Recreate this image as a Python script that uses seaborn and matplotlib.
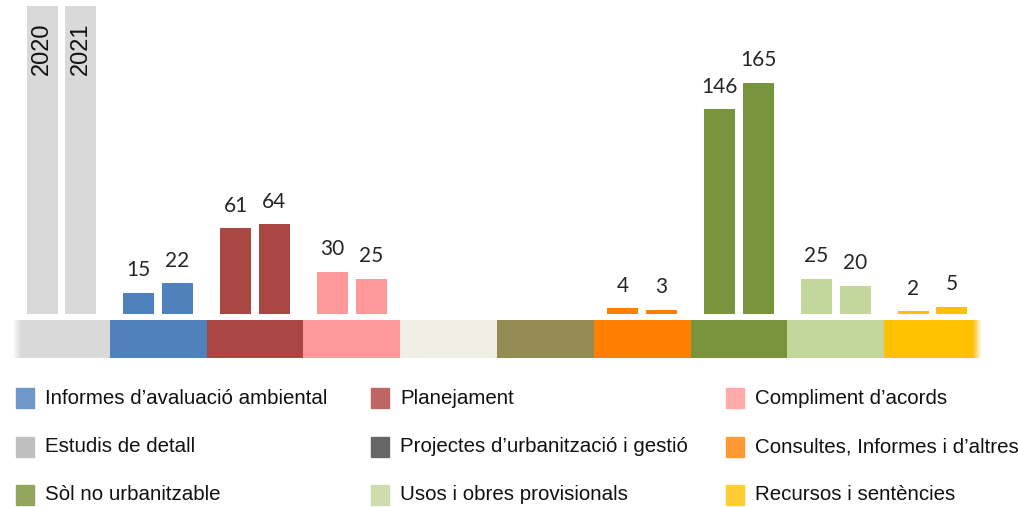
import numpy as np
import pandas as pd
import matplotlib.pyplot as plt
import seaborn as sns
from matplotlib.patches import Rectangle

# ---------------- data ----------------
groups = ["any", "Informes", "Planejament", "Compliment", "Estudis", "Projectes",
          "Consultes", "Sol", "Usos", "Recursos"]
years = ["2020", "2021"]
header_height = 220  # height of the grey "year" header bars
vals_2020 = [header_height, 15, 61, 30, 0, 0, 4, 146, 25, 2]
vals_2021 = [header_height, 22, 64, 25, 0, 0, 3, 165, 20, 5]

bar_colors = ["#d9d9d9", "#4f81bd", "#aa4644", "#ff9999", "#eeeee4",
              "#948a54", "#ff8000", "#77933c", "#c3d69b", "#ffc000"]

legend_labels = [
    "Informes d’avaluació ambiental", "Planejament", "Compliment d’acords",
    "Estudis de detall", "Projectes d’urbanització i gestió", "Consultes, Informes i d’altres",
    "Sòl no urbanitzable", "Usos i obres provisionals", "Recursos i sentències",
]
legend_colors = ["#6f98c8", "#bd6664", "#ffaaaa",
                 "#bfbfbf", "#666666", "#ff9933",
                 "#92a65e", "#cfdcad", "#ffcc33"]

df = pd.DataFrame({
    "group": groups * 2,
    "year": [years[0]] * len(groups) + [years[1]] * len(groups),
    "value": vals_2020 + vals_2021,
})

# ---------------- figure ----------------
sns.set_style("white")
plt.rcParams["font.family"] = ["Liberation Sans", "DejaVu Sans"]

fig = plt.figure(figsize=(10.19, 5.07), dpi=100)
W, H = 1019, 507
ax = fig.add_axes([13 / W, 1 - 362 / H, (981 - 13) / W, 362 / H])

sns.barplot(data=df, x="group", y="value", hue="year", order=groups,
            hue_order=years, gap=0.2, width=0.8, linewidth=0,
            legend=False, ax=ax)

# colour each bar by its group
for cont in ax.containers:
    for i, bar in enumerate(cont):
        bar.set_facecolor(bar_colors[i])
        bar.set_edgecolor("none")

# value labels
for cont, vals in zip(ax.containers, [vals_2020, vals_2021]):
    for i, (bar, v) in enumerate(zip(cont, vals)):
        if i == 0 or v == 0:
            continue
        ax.annotate(str(v), (bar.get_x() + bar.get_width() / 2, v),
                    xytext=(0, 9), textcoords="offset points",
                    ha="center", va="bottom", fontsize=15,
                    family=["Lato", "DejaVu Sans"], color="#262626")

# year text in the header bars
for cont, yr in zip(ax.containers, years):
    bar = cont[0]
    ax.text(bar.get_x() + bar.get_width() / 2, header_height - 12, yr,
            rotation=90, ha="center", va="top", fontsize=17, color="#111111")

# coloured band below the bars
ax.bar(np.arange(len(groups)), [-27.5] * len(groups), bottom=-4.3,
       width=1.0, color=bar_colors, linewidth=0)
# soft fade at both ends of the band
for k, a in enumerate([0.85, 0.6, 0.35, 0.15]):
    ax.bar([-0.49 + 0.02 * k, 9.49 - 0.02 * k], [-27.5, -27.5], bottom=-4.3,
           width=0.02, color="white", alpha=a, linewidth=0)

ax.set_xlim(-0.5, 9.5)
ax.set_ylim(-34.3, 224)
ax.set_axis_off()

# ---------------- legend ----------------
col_x = [16, 371, 726]
row_y = [398, 447, 495]
for k, (lab, col) in enumerate(zip(legend_labels, legend_colors)):
    r, c = divmod(k, 3)
    x0, y0 = col_x[c], row_y[r]
    fig.patches.append(Rectangle((x0 / W, 1 - (y0 + 10) / H), 18 / W, 20 / H,
                                 transform=fig.transFigure, color=col))
    fig.text((x0 + 29) / W, 1 - y0 / H, lab, ha="left", va="center",
             fontsize=14.8, color="#111111")

fig.savefig("out.png", dpi=100)
